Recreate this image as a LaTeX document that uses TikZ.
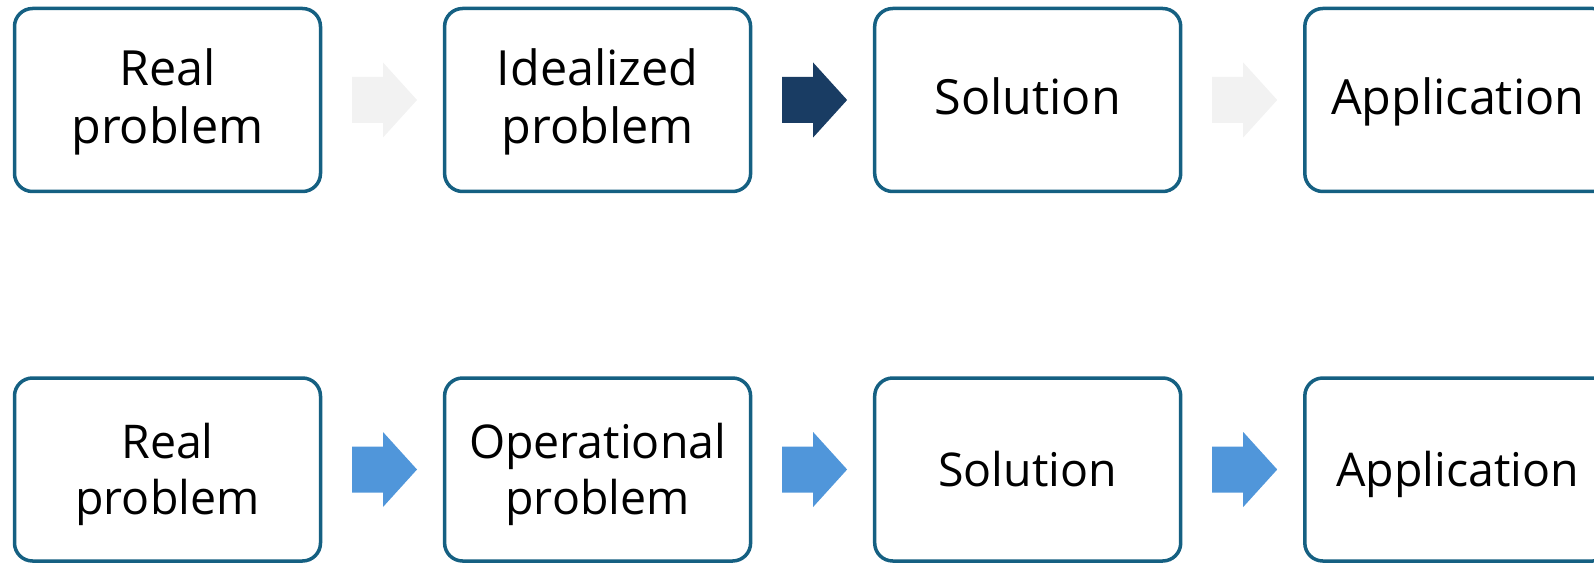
\documentclass[tikz,border=0pt]{standalone}
\usepackage{fontspec}
\setmainfont{Open Sans}
\usetikzlibrary{calc}
\definecolor{boxline}{HTML}{156082}
\definecolor{arrowgray}{HTML}{F2F2F2}
\definecolor{arrownavy}{HTML}{193C63}
\definecolor{arrowblue}{HTML}{5096DA}

% block arrow starting a fixed distance right of a stage box
\newcommand\flowarrow[2]{%
  \fill[#1] ($(#2.east)+(31.5,-23)$) -- ++(31,0) -- ++(0,-14.5) -- ++(34,37.5)
    -- ++(-34,37.5) -- ++(0,-14.5) -- ++(-31,0) -- cycle;}

\begin{document}
\begin{tikzpicture}[x=1pt,y=1pt,
  stage/.style={draw=boxline, line width=3.5pt, rounded corners=18pt,
    minimum width=306pt, minimum height=183pt, inner sep=0pt, outer sep=0pt,
    align=center, fill=white},
  toprow/.style={stage, font=\fontsize{48.5}{58}\selectfont},
  botrow/.style={stage, font=\fontsize{46.5}{56}\selectfont},
  toptext/.style={font=\fontsize{48.5}{58}\selectfont, align=center, inner sep=0pt},
  bottext/.style={font=\fontsize{46.5}{56}\selectfont, align=center, inner sep=0pt},
]
\useasboundingbox (0,0) rectangle (1594,563);

% idealized route
\node[toprow] (t1) at (167.5,463) {};
\node[toprow] (t2) at (597.6,463) {};
\node[toprow] (t3) at (1027.7,463) {};
\node[toprow] (t4) at (1457.8,463) {};
\node[toptext] (t1l) at ($(t1.center)+(0,-3)$) {\strut Real\\\strut problem};
\node[toptext] (t2l) at ($(t2.center)+(0,-3)$) {\strut Idealized\\\strut problem};
\node[toptext] (t3l) at ($(t3.center)+(0,-3)$) {\strut Solution};
\node[toptext] (t4l) at ($(t4.center)+(0,-3)$) {\strut Application};

% operational route
\node[botrow] (b1) at (167.5,93.5) {};
\node[botrow] (b2) at (597.6,93.5) {};
\node[botrow] (b3) at (1027.7,93.5) {};
\node[botrow] (b4) at (1457.8,93.5) {};
\node[bottext] (b1l) at ($(b1.center)+(0,-6)$) {\strut Real\\\strut problem};
\node[bottext] (b2l) at ($(b2.center)+(0,-6)$) {\strut Operational\\\strut problem};
\node[bottext] (b3l) at ($(b3.center)+(0,-6)$) {\strut Solution};
\node[bottext] (b4l) at ($(b4.center)+(0,-6)$) {\strut Application};

\flowarrow{arrowgray}{t1}
\flowarrow{arrownavy}{t2}
\flowarrow{arrowgray}{t3}

\flowarrow{arrowblue}{b1}
\flowarrow{arrowblue}{b2}
\flowarrow{arrowblue}{b3}
\end{tikzpicture}
\end{document}
